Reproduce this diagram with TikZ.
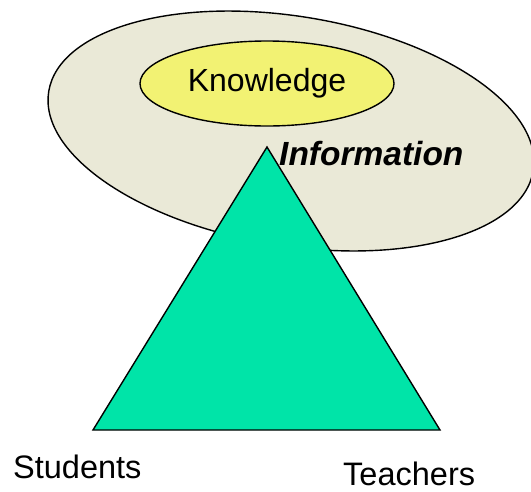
\documentclass[tikz,border=0pt]{standalone}
\usepackage{fontspec}
\setmainfont{Liberation Sans}
\usetikzlibrary{shapes.geometric}

\definecolor{infofill}{RGB}{234,233,215}
\definecolor{knowfill}{RGB}{242,242,115}
\definecolor{trifill}{RGB}{0,228,168}

\tikzset{
  outline/.style={draw=black, line width=1.4pt},
  bubble/.style={ellipse, outline, inner sep=0pt},
  label text/.style={font=\fontsize{32.5}{36}\selectfont, inner sep=0pt, text depth=0pt},
}

\begin{document}
\begin{tikzpicture}[x=1pt, y=-1pt]
  \useasboundingbox (0,0) rectangle (531,491);

  % outer information ellipse, tilted
  \node[bubble, fill=infofill, minimum width=491pt, minimum height=229.4pt,
        rotate=-9.3] (info) at (291,131) {};

  % knowledge ellipse inside it
  \node[bubble, fill=knowfill, minimum width=254pt, minimum height=85pt,
        font=\fontsize{32}{36}\selectfont] (know) at (267,83.5) {Knowledge};

  % triangle of students, teachers and information
  \coordinate (apex) at (267,147);
  \coordinate (left) at (93,430);
  \coordinate (right) at (440,430);
  \draw[outline, fill=trifill, line join=miter] (apex) -- (left) -- (right) -- cycle;

  % labels
  \node[label text, anchor=base west, font=\fontsize{33.5}{36}\selectfont\bfseries\itshape]
        (infolabel) at (279,165) {Information};
  \node[label text, anchor=base west] (students) at (13,478) {Students};
  \node[label text, anchor=base west] (teachers) at (343,485) {Teachers};
\end{tikzpicture}
\end{document}
